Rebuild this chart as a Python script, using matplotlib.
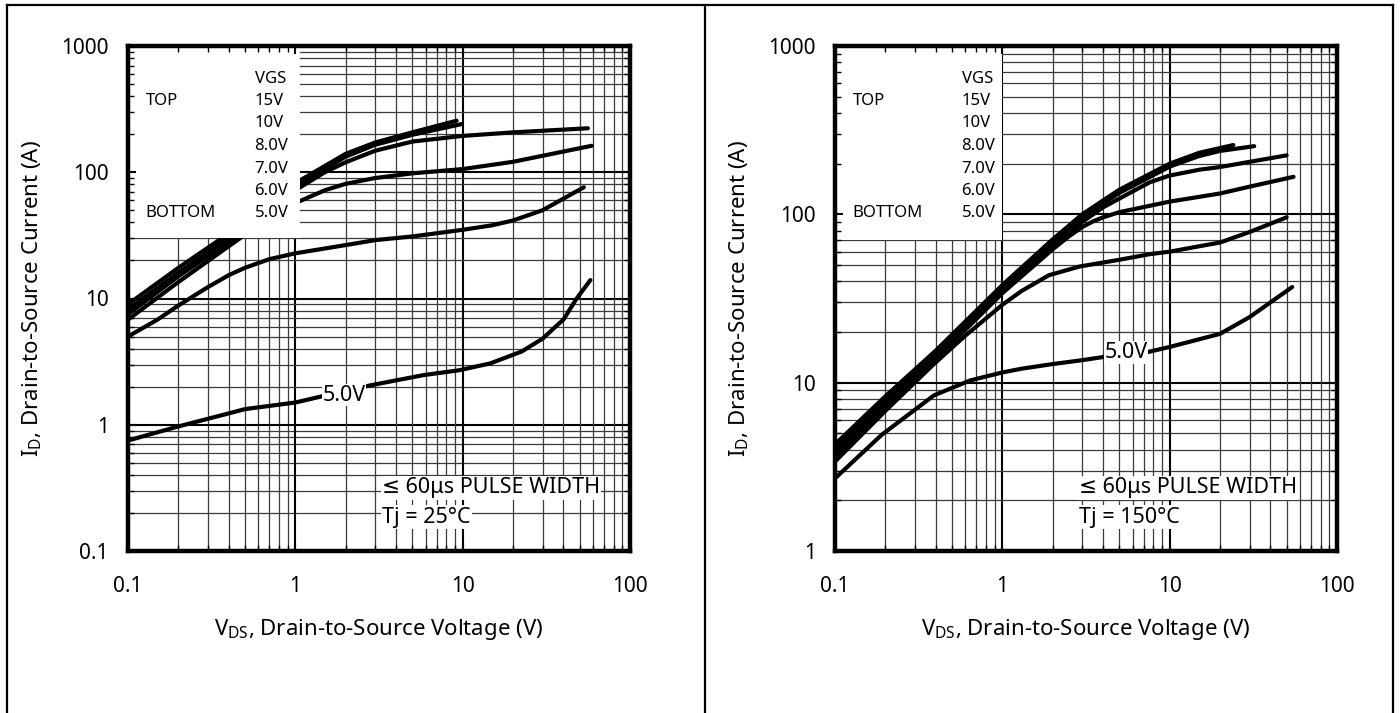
import matplotlib
matplotlib.use("Agg")
import matplotlib.pyplot as plt
from matplotlib.lines import Line2D
from matplotlib.patches import Rectangle
from matplotlib.ticker import LogLocator, NullFormatter

plt.rcParams["font.family"] = ["Noto Sans", "DejaVu Sans"]
plt.rcParams["mathtext.default"] = "regular"

vgs_labels = ["15V", "10V", "8.0V", "7.0V", "6.0V", "5.0V"]

# Tj = 25 C
vds_25_15 = [0.1, 0.2, 0.5, 1, 2, 3, 5, 9.2]
id_25_15 = [9.0, 17.5, 40, 82, 140, 172, 207, 256]
vds_25_10 = [0.1, 0.2, 0.5, 1, 2, 3, 5, 9.9]
id_25_10 = [8.2, 16, 37, 77, 133, 165, 198, 241]
vds_25_8 = [0.1, 0.2, 0.5, 1, 1.5, 2, 3, 5, 10, 20, 56]
id_25_8 = [7.5, 15, 34, 72, 100, 120, 148, 175, 194, 207, 223]
vds_25_7 = [0.1, 0.2, 0.5, 1, 1.5, 2, 3, 5, 10, 20, 30, 59]
id_25_7 = [6.8, 13.5, 32, 57, 72, 81, 90, 98, 106, 121, 135, 162]
vds_25_6 = [0.1, 0.15, 0.2, 0.3, 0.4, 0.5, 0.7, 1, 2, 3, 5, 10, 15, 20, 30, 53]
id_25_6 = [5.0, 6.8, 8.8, 12.3, 15.3, 17.5, 20.5, 22.8, 26.5, 29, 31, 35, 38, 41.5, 50, 76]
vds_25_5 = [0.1, 0.2, 0.4, 0.5, 1, 1.5, 2.8, 5.8, 9.5, 14.6, 22.5, 30, 36, 40, 48, 58]
id_25_5 = [0.75, 0.97, 1.23, 1.33, 1.5, 1.7, 2.05, 2.47, 2.7, 3.06, 3.8, 4.8, 6.0, 6.8, 10, 14]

# Tj = 150 C
vds_150_15 = [0.1, 0.2, 0.4, 1, 2, 3, 5, 10, 15, 24]
id_150_15 = [4.3, 8.3, 15.5, 38, 71, 100, 140, 200, 232, 258]
vds_150_10 = [0.1, 0.2, 0.4, 1, 2, 3, 5, 10, 15, 20, 32]
id_150_10 = [4.0, 7.9, 15, 36.5, 68, 96, 134, 192, 222, 238, 254]
vds_150_8 = [0.1, 0.2, 0.4, 1, 2, 3, 4, 5, 7.6, 10, 15, 20, 30, 50]
id_150_8 = [3.8, 7.5, 14.3, 35, 65, 90, 110, 124, 155, 170, 184, 191, 205, 224]
vds_150_7 = [0.1, 0.2, 0.4, 1, 2, 2.5, 3, 3.5, 4, 5, 10, 15, 20, 30, 55]
id_150_7 = [3.6, 7.2, 13.8, 34, 62, 74, 84, 91, 96, 103, 119, 127, 133, 146, 167]
vds_150_6 = [0.1, 0.2, 0.39, 0.6, 1, 1.3, 1.9, 2.9, 5, 7.6, 10, 15, 20, 30, 50]
id_150_6 = [3.4, 6.8, 12.9, 19, 29, 35, 43.5, 49, 53.7, 58, 60, 64.6, 68, 78.5, 96]
vds_150_5 = [0.1, 0.19, 0.39, 0.64, 1.0, 1.3, 2.0, 3.0, 4.0, 7.4, 10, 20, 30, 54]
id_150_5 = [2.7, 4.9, 8.4, 10.3, 11.5, 12.1, 12.9, 13.6, 14.2, 15.2, 16.3, 19.5, 24.5, 37]

curves_25 = [(vds_25_15, id_25_15), (vds_25_10, id_25_10), (vds_25_8, id_25_8),
             (vds_25_7, id_25_7), (vds_25_6, id_25_6), (vds_25_5, id_25_5)]
curves_150 = [(vds_150_15, id_150_15), (vds_150_10, id_150_10), (vds_150_8, id_150_8),
              (vds_150_7, id_150_7), (vds_150_6, id_150_6), (vds_150_5, id_150_5)]

yticks_25 = [0.1, 1, 10, 100, 1000]
yticks_150 = [1, 10, 100, 1000]
xticks = [0.1, 1, 10, 100]


def draw_panel(ax, curves, yticks, box_x, box_y, lbl_xy, tj_text, pulse_x):
    ymin, ymax = yticks[0], yticks[-1]
    ax.set_xscale("log")
    ax.set_yscale("log")
    ax.set_xlim(0.1, 100)
    ax.set_ylim(ymin, ymax)

    # log grid drawn by hand so that ticks can sit above the legend box
    for e in range(-2, 4):
        for m in range(1, 10):
            v = m * 10.0 ** e
            major = m == 1
            c = "black" if major else "#3a3a3a"
            w = 1.5 if major else 0.9
            if 0.1 < v < 100:
                ax.axvline(v, color=c, lw=w, zorder=1)
            if ymin < v < ymax:
                ax.axhline(v, color=c, lw=w, zorder=1)

    for vds, i_d in curves:
        ax.plot(vds, i_d, color="black", lw=3.0, solid_capstyle="round",
                solid_joinstyle="round", zorder=2)

    ax.add_patch(Rectangle((0.1, box_y), box_x - 0.1, ymax - box_y,
                           facecolor="white", edgecolor="none", zorder=2.3))

    ax.set_axisbelow(False)
    ax.set_xticks(xticks)
    ax.set_xticklabels(["0.1", "1", "10", "100"])
    ax.set_yticks(yticks)
    ax.set_yticklabels([("%g" % t) for t in yticks])
    ax.xaxis.set_minor_locator(LogLocator(base=10, subs=range(2, 10)))
    ax.yaxis.set_minor_locator(LogLocator(base=10, subs=range(2, 10)))
    ax.xaxis.set_minor_formatter(NullFormatter())
    ax.yaxis.set_minor_formatter(NullFormatter())
    ax.tick_params(which="both", direction="in", top=True, right=True,
                   labelsize=15)
    ax.tick_params(which="major", length=6, width=1.5)
    ax.tick_params(which="minor", length=4, width=1)
    ax.tick_params(axis="x", which="major", pad=18)
    ax.tick_params(axis="y", which="major", pad=14)
    for s in ax.spines.values():
        s.set_linewidth(3.2)

    ax.set_xlabel("$V_{DS}$, Drain-to-Source Voltage (V)", fontsize=16, va="center")
    ax.xaxis.set_label_coords(0.5, -0.155)
    ax.set_ylabel("$I_D$, Drain-to-Source Current (A)", fontsize=16, va="center")
    ax.yaxis.set_label_coords(-0.19, 0.5)

    rows = [0.935, 0.891, 0.847, 0.802, 0.757, 0.712, 0.670]
    ax.text(0.252, rows[0], "VGS", transform=ax.transAxes, fontsize=12,
            va="center", ha="left", zorder=4)
    for y, lab in zip(rows[1:], vgs_labels):
        ax.text(0.252, y, lab, transform=ax.transAxes, fontsize=12,
                va="center", ha="left", zorder=4)
    ax.text(0.035, rows[1], "TOP", transform=ax.transAxes, fontsize=12,
            va="center", ha="left", zorder=4)
    ax.text(0.035, rows[6], "BOTTOM", transform=ax.transAxes, fontsize=12,
            va="center", ha="left", zorder=4)

    ax.text(lbl_xy[0], lbl_xy[1], "5.0V", fontsize=15.5, ha="center", va="center",
            zorder=4, bbox=dict(facecolor="white", edgecolor="none", pad=0.5))

    box = dict(facecolor="white", edgecolor="none", pad=1.0)
    ax.text(pulse_x, 0.125, "\u2264 60\u03bcs PULSE WIDTH", transform=ax.transAxes,
            fontsize=15.5, ha="left", va="center", zorder=4, bbox=box)
    ax.text(pulse_x, 0.067, tj_text, transform=ax.transAxes,
            fontsize=15.5, ha="left", va="center", zorder=4, bbox=box)


fig = plt.figure(figsize=(14, 7.13), dpi=100)
ax1 = fig.add_axes([128 / 1400, 1 - 551 / 713, 502 / 1400, 505 / 713])
ax2 = fig.add_axes([835 / 1400, 1 - 551 / 713, 502 / 1400, 505 / 713])

draw_panel(ax1, curves_25, yticks_25, 1.07, 30, (1.95, 1.72), "Tj = 25\u00b0C", 0.506)
draw_panel(ax2, curves_150, yticks_150, 1.0, 70, (5.48, 15.1), "Tj = 150\u00b0C", 0.486)

# outer frame of the two panels
frame = dict(transform=fig.transFigure, color="black", lw=1.6)
top = 1 - 5 / 713
fig.add_artist(Line2D([7 / 1400, 1393 / 1400], [top, top], **frame))
fig.add_artist(Line2D([7 / 1400, 7 / 1400], [0, top], **frame))
fig.add_artist(Line2D([705 / 1400, 705 / 1400], [0, top], **frame))
fig.add_artist(Line2D([1393 / 1400, 1393 / 1400], [0, top], **frame))

fig.savefig("out.png", dpi=100)
